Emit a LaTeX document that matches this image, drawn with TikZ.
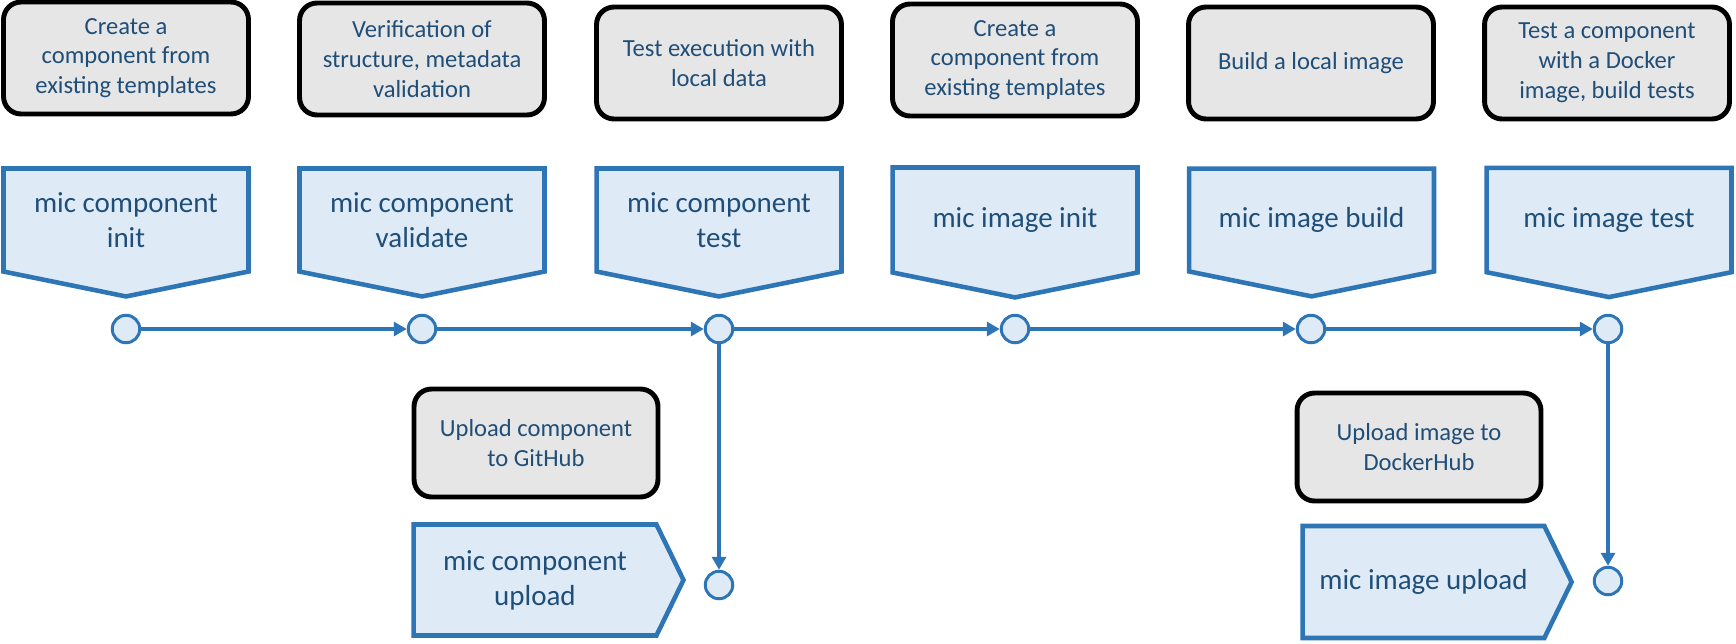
\documentclass[tikz,border=0pt]{standalone}
\usepackage{fontspec}
\setmainfont{Carlito}
\usetikzlibrary{shapes.symbols,arrows.meta}
\definecolor{lineblue}{HTML}{2E75B6}
\definecolor{boxblue}{HTML}{DEEBF7}
\definecolor{boxgray}{HTML}{E7E6E6}
\definecolor{textblue}{HTML}{1F4E79}

\begin{document}
\begin{tikzpicture}[x=0.02cm, y=-0.02cm,
            desc/.style={draw=black, line width=2.8pt, fill=boxgray, rounded corners=0.35cm,
                minimum width=4.9cm, minimum height=2.24cm, align=center, text=textblue,
                font=\fontsize{14}{17}\selectfont},
            sig/.style={shape=signal, draw=lineblue, line width=2.6pt, fill=boxblue,
                align=center, text=textblue, font=\fontsize{16.5}{20}\selectfont},
            cmd/.style={sig, signal to=south, signal pointer angle=157,
                minimum width=4.9cm, minimum height=2.46cm},
            upl/.style={sig, signal to=east, signal pointer angle=128,
                minimum width=5.4cm, minimum height=2.22cm},
            dot/.style={circle, draw=lineblue, line width=1.7pt, fill=boxblue,
                minimum size=0.55cm, inner sep=0pt},
            flow/.style={draw=lineblue, line width=2.3pt, -{Triangle[length=0.26cm, width=0.28cm]}}]
                \useasboundingbox (0,0) rectangle (1736,643);

                \node[desc] (dcinit) at (126,58) {Create a\\component from\\existing templates};
                \node[desc] (dcvalid) at (422,59) {Verification of\\structure, metadata\\validation};
                \node[desc] (dctest) at (719,63) {Test execution with\\local data};
                \node[desc] (diinit) at (1015,60) {Create a\\component from\\existing templates};
                \node[desc] (dibuild) at (1311,63) {Build a local image};
                \node[desc] (ditest) at (1607,63) {Test a component\\with a Docker\\image, build tests};

                \node[cmd] (cinit) at (126,220) {mic component\\init};
                \node[cmd] (cvalid) at (422,220) {mic component\\validate};
                \node[cmd] (ctest) at (719,220) {mic component\\test};
                \node[cmd] (iinit) at (1015,220) {mic image init};
                \node[cmd] (ibuild) at (1311.5,220) {mic image build};
                \node[cmd] (itest) at (1609,220) {mic image test};

                \node[dot] (p1) at (126,329) {};
                \node[dot] (p2) at (422,329) {};
                \node[dot] (p3) at (719,329) {};
                \node[dot] (p4) at (1015,329) {};
                \node[dot] (p5) at (1311,329) {};
                \node[dot] (p6) at (1608,329) {};
                \node[dot] (p7) at (719,585) {};
                \node[dot] (p8) at (1608,581) {};

                \node[desc, minimum width=4.88cm, minimum height=2.16cm] (dcup) at (536,443) {Upload component\\to GitHub};
                \node[desc, minimum width=4.88cm, minimum height=2.16cm] (diup) at (1419,447) {Upload image to\\DockerHub};
                \node[upl] (cupload) at (535,580) {mic component\\upload};
                \node[upl, minimum width=5.38cm, minimum height=2.24cm] (iupload) at (1423.5,582) {mic image upload};

                \draw[flow] (p1) -- (p2);
                \draw[flow] (p2) -- (p3);
                \draw[flow] (p3) -- (p4);
                \draw[flow] (p4) -- (p5);
                \draw[flow] (p5) -- (p6);
                \draw[flow] (p3) -- (p7);
                \draw[flow] (p6) -- (p8);
        \end{tikzpicture}
\end{document}
